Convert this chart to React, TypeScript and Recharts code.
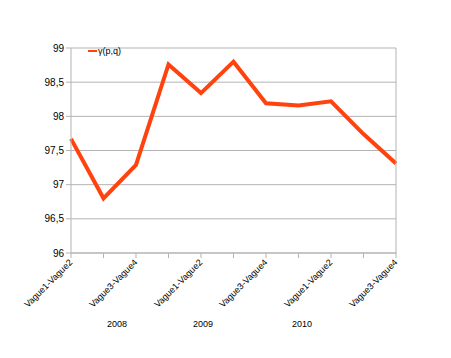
import React from 'react';
import { LineChart, Line, XAxis, YAxis, CartesianGrid, Legend } from 'recharts';

const periods = [
  'Vague1-Vague2', 'Vague2-Vague3', 'Vague3-Vague4', 'Vague4-Vague1',
  'Vague1-Vague2', 'Vague2-Vague3', 'Vague3-Vague4', 'Vague4-Vague1',
  'Vague1-Vague2', 'Vague2-Vague3', 'Vague3-Vague4',
];
const gamma = [97.67, 96.8, 97.29, 98.76, 98.34, 98.8, 98.19, 98.16, 98.22, 97.74, 97.31];
const yTicks = [96, 96.5, 97, 97.5, 98, 98.5, 99];
const years = [
  { label: '2008', x: 117 },
  { label: '2009', x: 203 },
  { label: '2010', x: 302 },
];

const data = periods.map((p, i) => ({ idx: i, name: p, g: gamma[i] }));

const FONT = '"Liberation Sans", Arial, sans-serif';
const GRID = '#b3b3b3';

function PeriodTick(props: any) {
  const { x, y, payload } = props;
  const i = payload.index;
  if (i % 2 !== 0) return <g />;
  return (
    <text
      x={x + 2}
      y={y + 3}
      textAnchor="end"
      fontSize={9}
      fontFamily={FONT}
      fill="#000"
      transform={`rotate(-45, ${x + 2}, ${y + 3})`}
    >
      {periods[i]}
    </text>
  );
}

function LegendBox() {
  return (
    <div style={{ display: 'flex', alignItems: 'center', fontFamily: FONT, fontSize: 9 }}>
      <span style={{ display: 'inline-block', width: 9, height: 2, background: '#ff420e', marginRight: 1 }} />
      <span>γ(p,q)</span>
    </div>
  );
}

export default function App() {
  return (
    <div style={{ position: 'absolute', left: 0, top: 0, width: 451, height: 358, background: '#fff' }}>
      <LineChart width={451} height={358} data={data} margin={{ top: 38, right: 0, bottom: 0, left: 0 }}>
        <CartesianGrid vertical={false} stroke={GRID} />
        <XAxis
          dataKey="idx"
          interval={0}
          tickLine={{ stroke: GRID }}
          tickSize={5}
          axisLine={{ stroke: GRID }}
          height={105}
          tick={<PeriodTick />}
        />
        <YAxis
          domain={[96, 99]}
          ticks={yTicks}
          width={71}
          axisLine={{ stroke: GRID }}
          tickLine={{ stroke: GRID }}
          tickSize={5}
          tickFormatter={(v: number) => String(v).replace('.', ',')}
          tick={{ fontSize: 10, fontFamily: FONT, fill: '#000' }}
        />
        <YAxis
          yAxisId="right"
          orientation="right"
          domain={[96, 99]}
          width={55}
          tick={false}
          tickLine={false}
          axisLine={{ stroke: GRID }}
        />
        <Legend
          verticalAlign="top"
          align="left"
          content={<LegendBox />}
          wrapperStyle={{ position: 'absolute', left: 88, top: 46, width: 80 }}
        />
        <Line
          type="linear"
          dataKey="g"
          name="γ(p,q)"
          stroke="#ff420e"
          strokeWidth={4}
          dot={false}
          isAnimationActive={false}
        />
      </LineChart>
      {years.map((yr) => (
        <div
          key={yr.label}
          style={{
            position: 'absolute',
            left: yr.x - 20,
            top: 319,
            width: 40,
            textAlign: 'center',
            fontFamily: FONT,
            fontSize: 9,
            color: '#000',
          }}
        >
          {yr.label}
        </div>
      ))}
    </div>
  );
}
